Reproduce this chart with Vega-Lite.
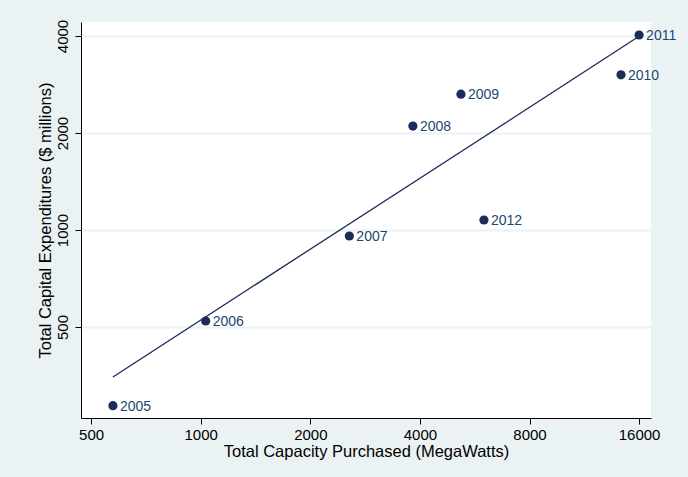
{
  "$schema": "https://vega.github.io/schema/vega-lite/v6.json",
  "width": 570,
  "height": 396,
  "autosize": {"type": "none"},
  "padding": {"left": 81, "top": 22, "right": 37, "bottom": 59},
  "background": "#EAF2F3",
  "config": {
    "view": {"fill": "white", "stroke": null},
    "font": "Liberation Sans",
    "axis": {
      "domainColor": "black",
      "tickColor": "black",
      "labelColor": "black",
      "titleColor": "black",
      "labelFontSize": 15,
      "titleFontSize": 16.5,
      "titleFontWeight": "normal",
      "labelFont": "Liberation Sans",
      "titleFont": "Liberation Sans",
      "tickSize": 6
    }
  },
  "datasets": {
    "pts": [
      {"year": "2005", "capacity": 574, "capex": 285},
      {"year": "2006", "capacity": 1032, "capex": 522},
      {"year": "2007", "capacity": 2560, "capex": 958},
      {"year": "2008", "capacity": 3826, "capex": 2101},
      {"year": "2009", "capacity": 5186, "capex": 2639},
      {"year": "2010", "capacity": 14270, "capex": 3031},
      {"year": "2011", "capacity": 16000, "capex": 4028},
      {"year": "2012", "capacity": 5997, "capex": 1074}
    ],
    "fit": [
      {"capacity": 574, "capex": 350},
      {"capacity": 16000, "capex": 3990}
    ]
  },
  "layer": [
    {
      "data": {"name": "fit"},
      "mark": {"type": "line", "color": "#1c2b57", "strokeWidth": 1.3},
      "encoding": {
        "x": {"field": "capacity", "type": "quantitative",
          "scale": {"type": "log", "domain": [469, 17250], "nice": false, "zero": false},
          "axis": {"values": [500, 1000, 2000, 4000, 8000, 16000], "format": "d", "grid": false,
            "title": "Total Capacity Purchased (MegaWatts)", "labelPadding": 3, "titlePadding": 1}},
        "y": {"field": "capex", "type": "quantitative",
          "scale": {"type": "log", "domain": [261, 4420], "nice": false, "zero": false},
          "axis": {"values": [500, 1000, 2000, 4000], "format": "d", "grid": true,
            "gridColor": "#EAF2F3", "gridWidth": 2, "gridOpacity": 1,
            "labelAngle": -90, "labelAlign": "center", "labelBaseline": "bottom", "labelPadding": 5,
            "title": "Total Capital Expenditures ($ millions)", "titlePadding": 2}}
      }
    },
    {
      "data": {"name": "pts"},
      "mark": {"type": "circle", "color": "#1c2b57", "size": 85, "opacity": 1},
      "encoding": {
        "x": {"field": "capacity", "type": "quantitative"},
        "y": {"field": "capex", "type": "quantitative"}
      }
    },
    {
      "data": {"name": "pts"},
      "mark": {"type": "text", "color": "#1a476f", "fontSize": 14, "align": "left", "baseline": "middle", "dx": 7, "dy": 1, "font": "Liberation Sans"},
      "encoding": {
        "x": {"field": "capacity", "type": "quantitative"},
        "y": {"field": "capex", "type": "quantitative"},
        "text": {"field": "year"}
      }
    }
  ]
}
